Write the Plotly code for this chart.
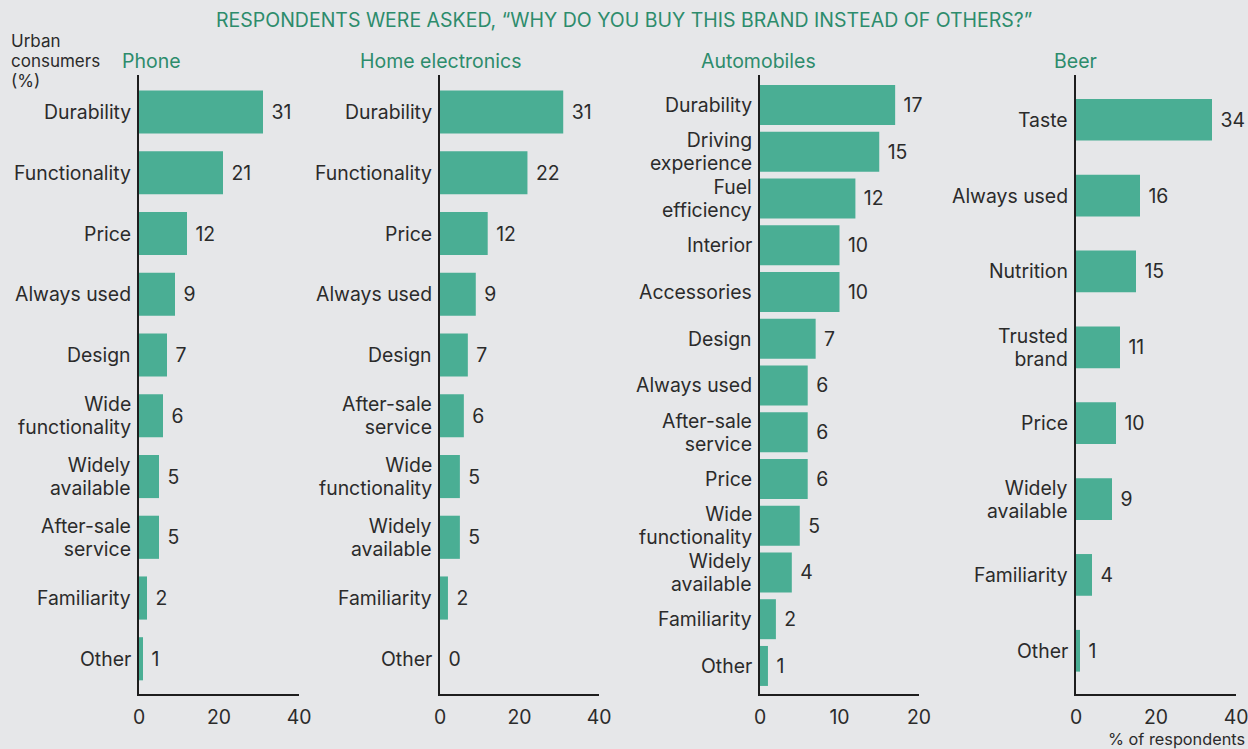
import plotly.graph_objects as go

phone_labels = ["Durability", "Functionality", "Price", "Always used", "Design",
                "Wide<br>functionality", "Widely<br>available", "After-sale<br>service",
                "Familiarity", "Other"]
phone_values = [31, 21, 12, 9, 7, 6, 5, 5, 2, 1]

home_labels = ["Durability", "Functionality", "Price", "Always used", "Design",
               "After-sale<br>service", "Wide<br>functionality", "Widely<br>available",
               "Familiarity", "Other"]
home_values = [31, 22, 12, 9, 7, 6, 5, 5, 2, 0]

auto_labels = ["Durability", "Driving<br>experience", "Fuel<br>efficiency", "Interior",
               "Accessories", "Design", "Always used", "After-sale<br>service", "Price",
               "Wide<br>functionality", "Widely<br>available", "Familiarity", "Other"]
auto_values = [17, 15, 12, 10, 10, 7, 6, 6, 6, 5, 4, 2, 1]

beer_labels = ["Taste", "Always used", "Nutrition", "Trusted<br>brand", "Price",
               "Widely<br>available", "Familiarity", "Other"]
beer_values = [34, 16, 15, 11, 10, 9, 4, 1]

panel_titles = ["Phone", "Home electronics", "Automobiles", "Beer"]
x_ranges = [[0, 40], [0, 40], [0, 20], [0, 40]]
x_ticks = [[0, 20, 40], [0, 20, 40], [0, 10, 20], [0, 20, 40]]
y_axis_note = "Urban<br>consumers<br>(%)"
x_axis_note = "% of respondents"
main_title = "RESPONDENTS WERE ASKED, \u201cWHY DO YOU BUY THIS BRAND INSTEAD OF OTHERS?\u201d"

W, H = 1248, 749
BG = "#e6e7e9"
BAR = "#4aae94"
GREEN = "#2d8c6c"
TXT = "#2b2b2b"
FONT = "Inter"
FS = 19.4


def sized(text, px):
    """Wrap every line in a span of the given pixel size (line spacing stays
    tied to the annotation's own base size)."""
    return "<br>".join(
        "<span style='font-size:%spx'>%s</span>" % (px, ln) for ln in text.split("<br>")
    )


panels = [
    (phone_labels, phone_values, (139, 299), 0.71, (0.61, 0.58)),
    (home_labels, home_values, (440, 599), 0.71, (0.61, 0.58)),
    (auto_labels, auto_values, (760, 919), 0.855, (0.64, 0.60)),
    (beer_labels, beer_values, (1076, 1236), 0.55, (0.59, 0.57)),
]

y_top_px, y_bot_px = 75, 694
ydom = [1 - y_bot_px / H, 1 - y_top_px / H]

fig = go.Figure()
layout = dict(
    width=W, height=H, autosize=False,
    paper_bgcolor=BG, plot_bgcolor=BG,
    margin=dict(l=0, r=0, t=0, b=0, pad=0),
    showlegend=False,
    font=dict(family=FONT, color=TXT, size=FS),
)
annotations = []
for i, (labels, values, (x0, x1), bw, (ptop, pbot)) in enumerate(panels):
    sfx = "" if i == 0 else str(i + 1)
    fig.add_trace(go.Bar(
        x=values, y=labels, orientation="h",
        xaxis="x" + sfx, yaxis="y" + sfx,
        marker=dict(color=BAR, line=dict(width=0)),
        width=bw,
        text=values, texttemplate="\u00a0%{x}", textposition="outside",
        textfont=dict(size=FS, color=TXT, family=FONT),
        cliponaxis=False, hoverinfo="skip",
    ))
    n = len(labels)
    layout["xaxis" + sfx] = dict(
        domain=[x0 / W, x1 / W], anchor="y" + sfx, range=x_ranges[i],
        tickvals=x_ticks[i], showgrid=False, zeroline=False,
        showline=True, linecolor="#1e1e1e", linewidth=1.5,
        ticks="", ticklabelstandoff=5, automargin=False,
        ticklabeloverflow="allow",
        tickfont=dict(size=FS, color=TXT, family=FONT),
        fixedrange=True,
    )
    layout["yaxis" + sfx] = dict(
        domain=ydom, anchor="x" + sfx, type="category",
        categoryorder="array", categoryarray=labels,
        range=[n - 1 + pbot, -ptop],
        showgrid=False, zeroline=False, showticklabels=False,
        showline=True, linecolor="#1e1e1e", linewidth=1.5,
        ticks="", automargin=False, fixedrange=True,
    )
    for lab in labels:
        annotations.append(dict(
            text=sized(lab, FS), xref="x" + sfx + " domain", x=0,
            yref="y" + sfx, y=lab,
            xanchor="right", yanchor="middle", align="right", xshift=-7,
            borderpad=0, showarrow=False,
            font=dict(size=17.4, color=TXT, family=FONT),
        ))

title_x = [151, 440, 759, 1075]
for t, tx in zip(panel_titles, title_x):
    annotations.append(dict(
        text=t, x=tx / W, y=1 - 61 / H, xref="paper", yref="paper",
        xanchor="center", yanchor="middle", showarrow=False,
        font=dict(size=19.5, color=GREEN, family=FONT),
    ))

annotations.append(dict(
    text=main_title,
    x=624 / W, y=1 - 20 / H, xref="paper", yref="paper",
    xanchor="center", yanchor="middle", showarrow=False,
    font=dict(size=19.5, color=GREEN, family=FONT),
))
annotations.append(dict(
    text=sized(y_axis_note, 17), x=10 / W, y=1 - 61 / H,
    xref="paper", yref="paper", xanchor="left", yanchor="middle", align="left",
    showarrow=False, borderpad=0, font=dict(size=15.4, color=TXT, family=FONT),
))
annotations.append(dict(
    text=x_axis_note, x=1246 / W, y=1 - 739 / H,
    xref="paper", yref="paper", xanchor="right", yanchor="middle",
    showarrow=False, borderpad=0, font=dict(size=16.3, color=TXT, family=FONT),
))
layout["annotations"] = annotations
fig.update_layout(**layout)
fig.write_html(
    "out.html",
    config={"responsive": False, "displayModeBar": False},
    post_script="document.body.style.margin='0';document.body.style.overflow='hidden';",
)
